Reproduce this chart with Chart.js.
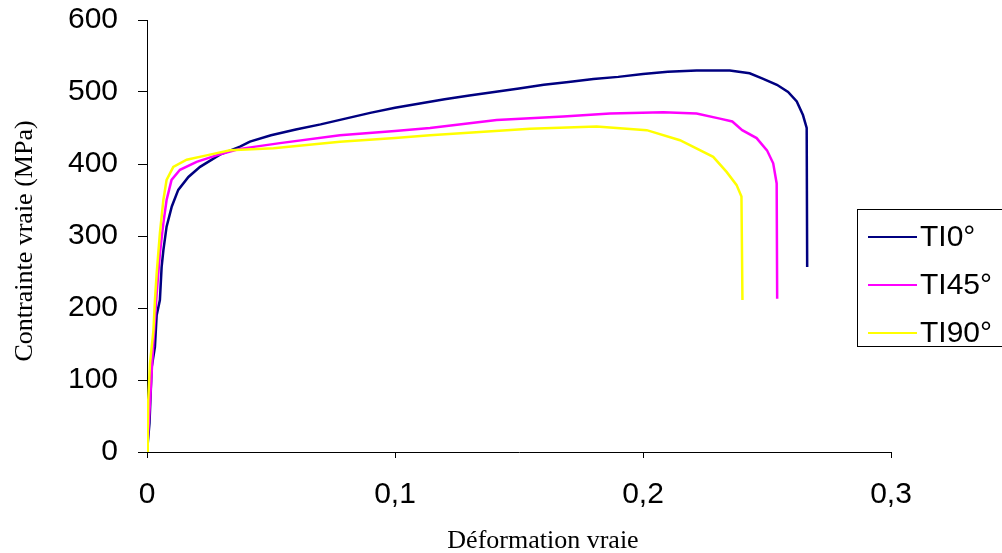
<!DOCTYPE html>
<html lang="fr">
<head>
    <meta charset="UTF-8">
    <title>Contrainte vraie - Déformation vraie</title>
    <script src="https://cdn.jsdelivr.net/npm/chart.js"></script>
    <style>
        body {
            margin: 0;
            background-color: #fff;
        }
        .wrap {
            width: 1002px;
            height: 553px;
            position: relative;
        }
    </style>
</head>
<body>
    <div class="wrap">
        <canvas id="curveChart"></canvas>
    </div>

    <script>
        const seriesNames = ['TI0°', 'TI45°', 'TI90°'];
        const seriesColors = ['#000080', '#ff00ff', '#ffff00'];

        const strainTI0 = [0, 0.001, 0.0019, 0.0032, 0.0039, 0.0052, 0.0059, 0.0066, 0.0079, 0.010, 0.0126, 0.0167, 0.0214, 0.0294, 0.0375, 0.0415,
            0.05, 0.06, 0.07, 0.08, 0.09, 0.1, 0.11, 0.12, 0.13, 0.14, 0.15, 0.16, 0.17, 0.18, 0.19, 0.2, 0.21, 0.2216, 0.235,
            0.243, 0.248, 0.254, 0.2585, 0.262, 0.2645, 0.266, 0.2662];
        const stressTI0 = [0, 40, 118, 146, 190, 211, 257, 280, 313, 341, 364, 382, 396, 413, 424, 431,
            440, 448, 455, 463, 471, 478, 484, 490, 495, 500, 505, 510, 514, 518, 521, 525, 528, 530, 530,
            526, 519, 510, 500, 487, 468, 450, 257];

        const strainTI45 = [0, 0.0012, 0.0026, 0.0039, 0.0052, 0.0066, 0.0079, 0.0099, 0.0133, 0.02, 0.028, 0.0375, 0.0536, 0.0778, 0.1, 0.1141,
            0.141, 0.1679, 0.1867, 0.2082, 0.2216, 0.231, 0.236, 0.240, 0.2458, 0.250, 0.2525, 0.2539, 0.2541];
        const stressTI45 = [0, 68, 155, 220, 276, 318, 350, 378, 392, 403, 412, 421, 429, 440, 446, 450,
            461, 466, 470, 472, 470, 463, 459, 447, 436, 419, 401, 373, 213];

        const strainTI90 = [0, 0.0003, 0.0005, 0.0012, 0.0026, 0.0032, 0.0039, 0.0052, 0.0066, 0.0079, 0.0106, 0.016, 0.024, 0.0335, 0.051, 0.0778,
            0.1, 0.1141, 0.1544, 0.1813, 0.2015, 0.2149, 0.2283, 0.2337, 0.2377, 0.2397, 0.2401];
        const stressTI90 = [0, 26, 72, 123, 169, 211, 248, 304, 350, 378, 396, 406, 412, 419, 422, 431,
            436, 440, 449, 452, 447, 433, 410, 389, 371, 355, 211];

        const xTickLabels = ['0', '0,1', '0,2', '0,3'];
        const yTickLabels = ['0', '100', '200', '300', '400', '500', '600'];

        function toPoints(xs, ys) {
            return xs.map((x, i) => ({ x: x, y: ys[i] }));
        }

        const strains = [strainTI0, strainTI45, strainTI90];
        const stresses = [stressTI0, stressTI45, stressTI90];

        const datasets = seriesNames.map((name, i) => ({
            label: name,
            data: toPoints(strains[i], stresses[i]),
            borderColor: seriesColors[i],
            backgroundColor: seriesColors[i],
            borderWidth: 2.5,
            pointRadius: 0,
            tension: 0,
            fill: false,
            order: 3 - i
        }));

        // titles and boxed legend, placed like the original sheet
        const decorations = {
            id: 'decorations',
            afterDraw(chart) {
                const ctx = chart.ctx;
                ctx.save();
                ctx.fillStyle = '#000';
                ctx.font = '26px "Liberation Serif", "Times New Roman", serif';
                ctx.textAlign = 'center';
                ctx.textBaseline = 'middle';
                ctx.fillText('Déformation vraie', 543, 541);

                ctx.save();
                ctx.translate(25, 241);
                ctx.rotate(-Math.PI / 2);
                ctx.fillText('Contrainte vraie (MPa)', 0, 0);
                ctx.restore();

                ctx.strokeStyle = '#000';
                ctx.lineWidth = 1;
                ctx.strokeRect(857.5, 209.5, 150, 137);

                ctx.font = '30px "Liberation Sans", Arial, sans-serif';
                ctx.textAlign = 'left';
                seriesNames.forEach((name, i) => {
                    const y = 237 + i * 48;
                    ctx.strokeStyle = seriesColors[i];
                    ctx.lineWidth = 2;
                    ctx.beginPath();
                    ctx.moveTo(868, y);
                    ctx.lineTo(917, y);
                    ctx.stroke();
                    ctx.fillText(name, 920, y + 1);
                });
                ctx.restore();
            }
        };

        const tickFont = { family: '"Liberation Sans", Arial, sans-serif', size: 30 };

        new Chart(document.getElementById('curveChart'), {
            type: 'line',
            data: { datasets: datasets },
            options: {
                responsive: true,
                maintainAspectRatio: false,
                animation: false,
                layout: {
                    padding: { top: 20, right: 111, left: 0, bottom: 0 }
                },
                plugins: {
                    legend: { display: false },
                    tooltip: { enabled: false }
                },
                scales: {
                    x: {
                        type: 'linear',
                        min: 0,
                        max: 0.3,
                        afterFit: (scale) => {
                            scale.height = 101;
                            scale.paddingLeft = 0;
                            scale.paddingRight = 0;
                        },
                        border: { display: true, color: '#000', width: 1 },
                        grid: { drawOnChartArea: false, drawTicks: true, tickLength: 6, color: '#000' },
                        ticks: {
                            stepSize: 0.1,
                            padding: 19,
                            color: '#000',
                            font: tickFont,
                            maxRotation: 0,
                            callback: (v, i) => xTickLabels[i]
                        }
                    },
                    y: {
                        min: 0,
                        max: 600,
                        afterFit: (scale) => {
                            scale.width = 147;
                            scale.paddingTop = 0;
                            scale.paddingBottom = 0;
                        },
                        border: { display: true, color: '#000', width: 1 },
                        grid: { drawOnChartArea: false, drawTicks: true, tickLength: 9, color: '#000' },
                        ticks: {
                            stepSize: 100,
                            padding: 20,
                            color: '#000',
                            font: tickFont,
                            callback: (v, i) => yTickLabels[i]
                        }
                    }
                }
            },
            plugins: [decorations]
        });
    </script>
</body>
</html>
